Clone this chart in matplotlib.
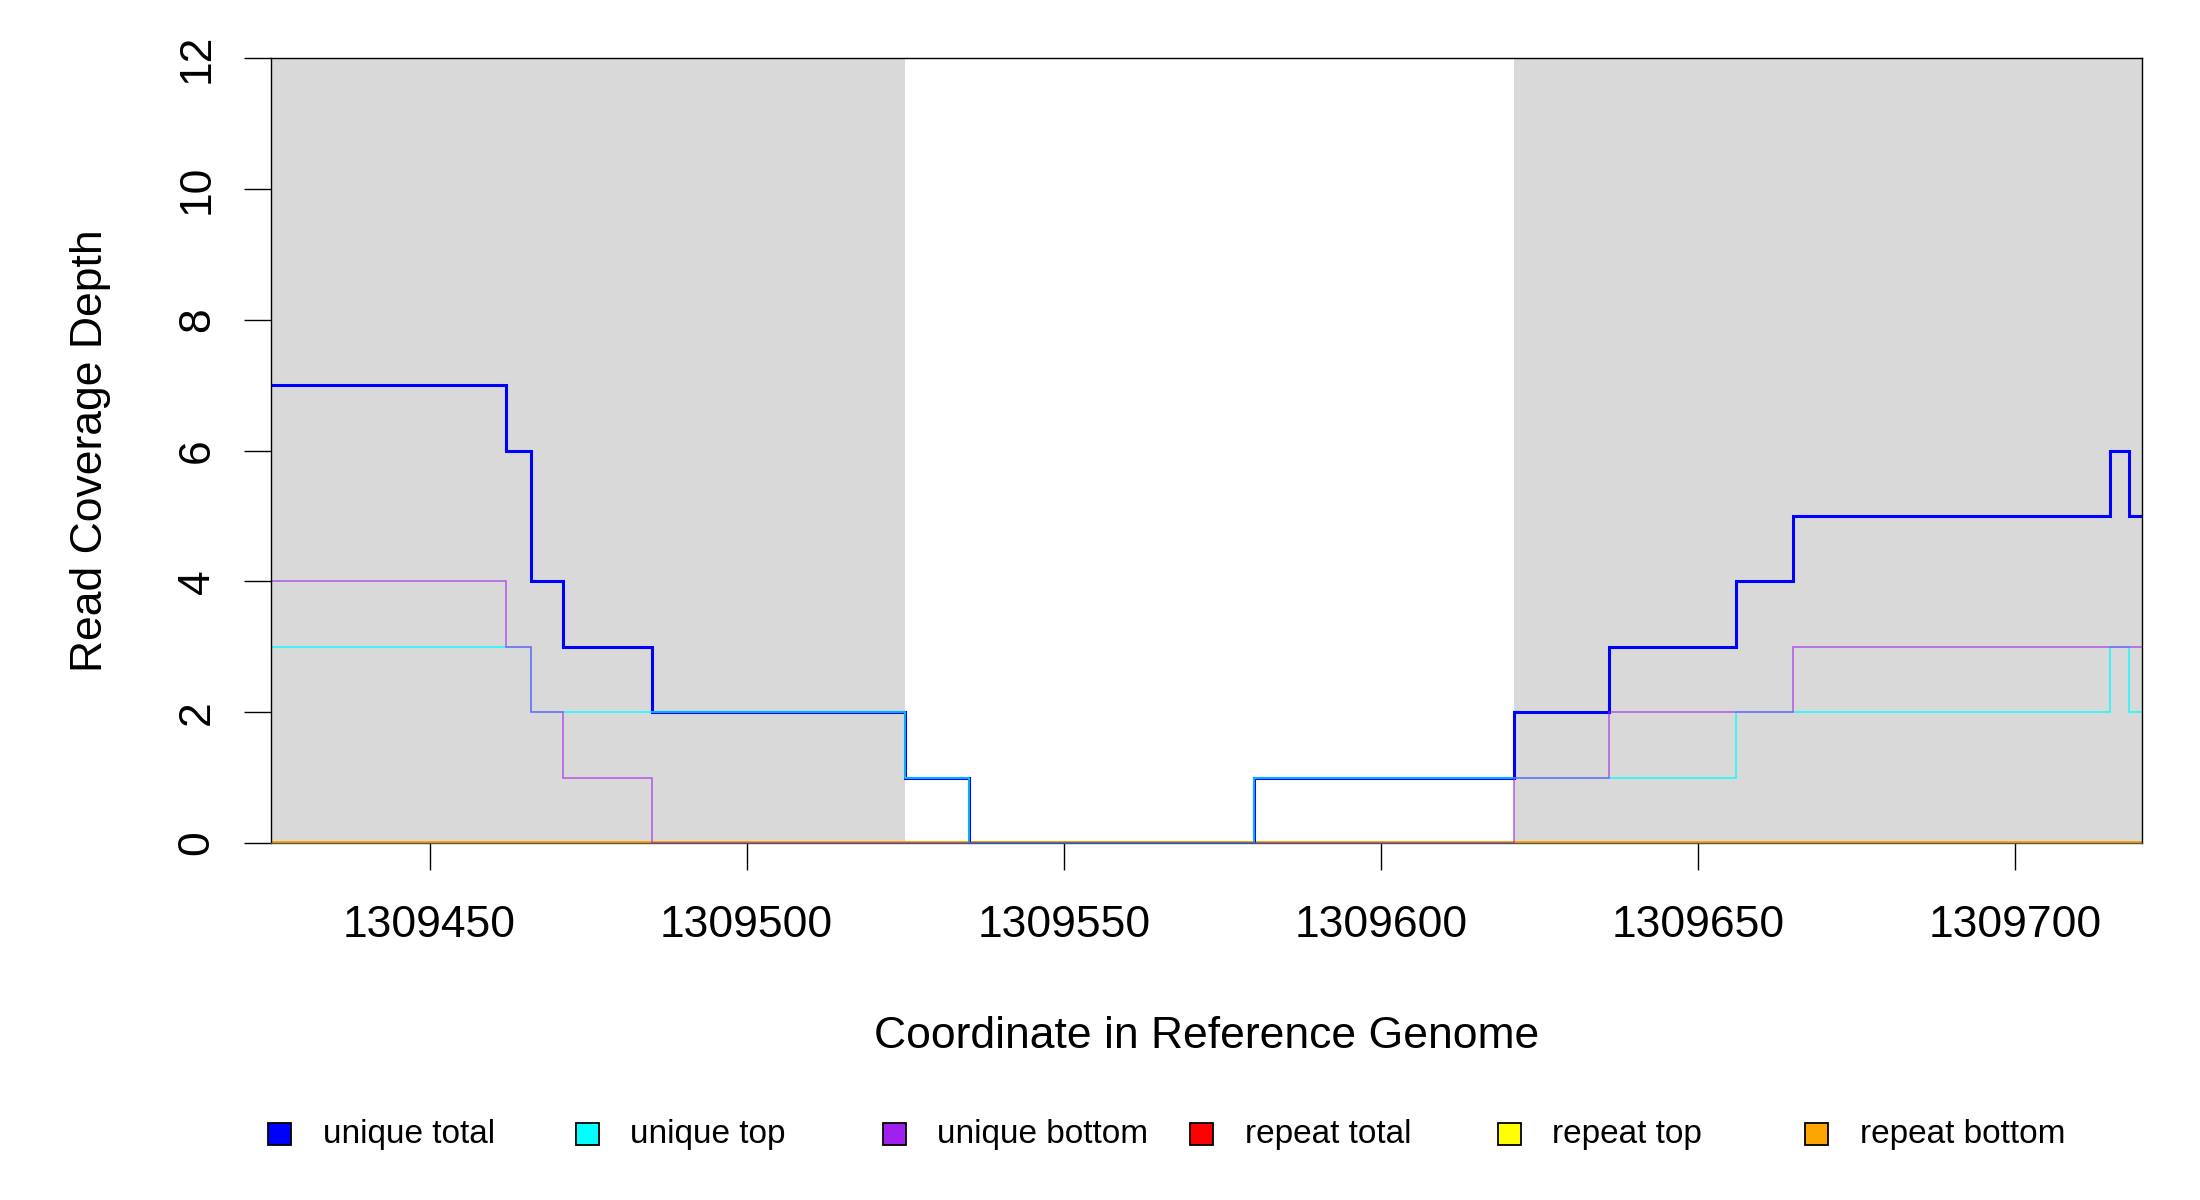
import matplotlib
matplotlib.use("Agg")
import matplotlib.pyplot as plt
from matplotlib.patches import Rectangle

plt.rcParams["font.family"] = ["Liberation Sans", "DejaVu Sans"]

# segment start positions (coverage changes here), last segment ends at x_end
seg_start = [1309425, 1309462, 1309466, 1309471, 1309485, 1309525, 1309535,
             1309580, 1309621, 1309636, 1309656, 1309665, 1309715, 1309718]
x_end = 1309720

unique_total = [7, 6, 4, 3, 2, 1, 0, 1, 2, 3, 4, 5, 6, 5]
unique_top = [3, 3, 2, 2, 2, 1, 0, 1, 1, 1, 2, 2, 3, 2]
unique_bottom = [4, 3, 2, 1, 0, 0, 0, 0, 1, 2, 2, 3, 3, 3]
repeat_total = [0] * 14
repeat_top = [0] * 14
repeat_bottom = [0] * 14

# shaded feature regions
shaded = [(1309425, 1309525), (1309621, 1309720)]

x_ticks = [1309450, 1309500, 1309550, 1309600, 1309650, 1309700]
y_ticks = [0, 2, 4, 6, 8, 10, 12]

legend_names = ["unique total", "unique top", "unique bottom",
                "repeat total", "repeat top", "repeat bottom"]
legend_colors = ["#0000FF", "#00FFFF", "#A020F0", "#FF0000", "#FFFF00", "#FFA500"]

W, H = 2200, 1200
fig = plt.figure(figsize=(22, 12), dpi=100)
ax = fig.add_axes([271 / W, 1 - 843 / H, 1871 / W, 785 / H])

for a, b in shaded:
    ax.axvspan(a, b, color="#D9D9D9", lw=0, zorder=0)


def step(vals, color, lw, alpha=1.0):
    xs = seg_start + [x_end]
    ys = vals + [vals[-1]]
    ax.step(xs, ys, where="post", color=color, lw=lw, alpha=alpha,
            solid_joinstyle="miter")


# repeat series first, unique on top
step(repeat_total, "#FF0000", 2.6, 0.8)
step(repeat_top, "#FFFF00", 2.6, 0.6)
step(repeat_bottom, "#FFA500", 2.8, 0.95)
step(unique_total, "#0000FF", 2.2)
step(unique_top, "#00FFFF", 1.1, 0.9)
step(unique_bottom, "#A020F0", 1.1, 0.7)

ax.set_xlim(seg_start[0], x_end)
ax.set_ylim(0, 12)
ax.set_xticks(x_ticks)
ax.set_xticklabels([str(t) for t in x_ticks])
ax.set_yticks(y_ticks)
ax.set_yticklabels([str(t) for t in y_ticks], rotation=90, va="center")

for s in ax.spines.values():
    s.set_linewidth(1.0)
ax.spines["bottom"].set_color("#555555")
ax.tick_params(axis="both", direction="out", length=19.4, width=1.0,
               labelsize=32)
ax.tick_params(axis="x", pad=25)
ax.tick_params(axis="y", pad=19)

ax.set_xlabel("Coordinate in Reference Genome", fontsize=32, va="baseline")
ax.xaxis.set_label_coords(0.5, -(1048 - 843) / 785)
ax.set_ylabel("Read Coverage Depth", fontsize=32, va="baseline")
ax.yaxis.set_label_coords((101.7 - 271) / 1871, 0.5)

# horizontal legend below the plot
for i, (name, col) in enumerate(zip(legend_names, legend_colors)):
    cx = 279.6 + i * 307.4
    cy = 1134
    fig.patches.append(Rectangle(((cx - 11.5) / W, 1 - (cy + 11) / H),
                                 23 / W, 22 / H, facecolor=col,
                                 edgecolor="black", lw=1.3,
                                 transform=fig.transFigure))
    fig.text((cx + 43) / W, 1 - cy / H, name, fontsize=24, va="center",
             ha="left")

fig.savefig("out.png", dpi=100)
